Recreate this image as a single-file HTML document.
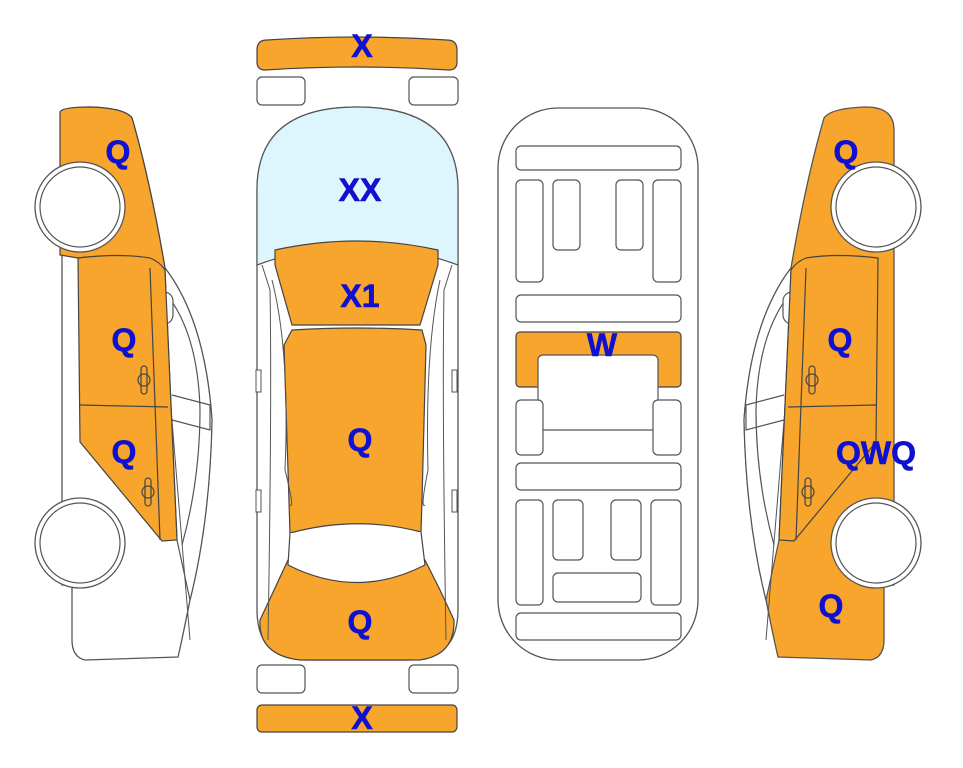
<!DOCTYPE html>
<html><head><style>
html,body{margin:0;padding:0;background:#fff;width:963px;height:768px;overflow:hidden}
svg text{font-family:"Liberation Sans",Arial,sans-serif;font-weight:bold;font-size:32px;fill:#1010D0;text-anchor:middle;stroke:#1010D0;stroke-width:0.6}
</style></head><body>
<svg width="963" height="768" viewBox="0 0 963 768" xmlns="http://www.w3.org/2000/svg">
<defs>
<g id="side">
  <path d="M62,245 L62,130 Q62,107 90,107 Q125,108 132,118 Q150,180 165,268 Q205,320 212,420 Q210,520 190,600 Q182,640 178,657 L85,660 Q72,657 72,640 L72,585 L62,585 Z" stroke="#555" stroke-width="1.3"/>
  <path d="M165,268 Q205,320 212,420 Q210,520 190,600 L177,540 L165,270 Z" fill="#fff" stroke="#555" stroke-width="1.2"/>
  <path d="M172,395 L210,405 L210,430 L172,420" fill="#fff" stroke="#555" stroke-width="1.2"/>
  <path d="M163,290 Q198,330 200,410 Q200,480 182,545" fill="none" stroke="#555" stroke-width="1.2"/>
  <path d="M160,275 L190,640" fill="none" stroke="#555" stroke-width="1"/>
  <rect x="153" y="292" width="20" height="32" rx="9" fill="#fff" stroke="#555" stroke-width="1.2"/>
</g>
<g id="wheels">
  <circle cx="80" cy="207" r="45" fill="#fff" stroke="#555" stroke-width="1.3"/>
  <circle cx="80" cy="207" r="40" fill="#fff" stroke="#555" stroke-width="1.2"/>
  <circle cx="80" cy="543" r="45" fill="#fff" stroke="#555" stroke-width="1.3"/>
  <circle cx="80" cy="543" r="40" fill="#fff" stroke="#555" stroke-width="1.2"/>
</g>
<g id="doors">
  <path d="M78,258 Q120,253 150,258 Q160,262 165,270 L177,540 L162,541 L80,442 Z" fill="#F7A52C" stroke="#444" stroke-width="1.2"/>
  <path d="M80,405 L168,407" stroke="#444" stroke-width="1.2"/>
  <path d="M150,268 L160,540" stroke="#444" stroke-width="1.2"/>
  <rect x="141" y="366" width="6" height="28" rx="3" fill="none" stroke="#444" stroke-width="1.2"/>
  <circle cx="144" cy="380" r="6" fill="none" stroke="#444" stroke-width="1.2"/>
  <rect x="145" y="478" width="6" height="28" rx="3" fill="none" stroke="#444" stroke-width="1.2"/>
  <circle cx="148" cy="492" r="6" fill="none" stroke="#444" stroke-width="1.2"/>
</g>
</defs>

<use href="#side" fill="#fff"/>
<path d="M60,112 Q62,107 90,107 Q125,108 132,118 Q150,180 165,268 L158,278 Q120,252 78,258 L60,255 Z" fill="#F7A52C" stroke="#444" stroke-width="1.2"/>
<use href="#doors"/>
<use href="#wheels"/>

<g transform="translate(956,0) scale(-1,1)">
  <use href="#side" fill="#F7A52C"/>
  <use href="#doors"/>
  <use href="#wheels"/>
</g>

<path d="M257,50 Q257,40 267,40 Q357,34 447,40 Q457,40 457,50 L457,62 Q457,70 449,70 Q357,64 265,70 Q257,70 257,62 Z" fill="#F7A52C" stroke="#444" stroke-width="1.2"/>
<rect x="257" y="77" width="48" height="28" rx="5" fill="#fff" stroke="#555" stroke-width="1.2"/>
<rect x="409" y="77" width="49" height="28" rx="5" fill="#fff" stroke="#555" stroke-width="1.2"/>
<rect x="257" y="665" width="48" height="28" rx="5" fill="#fff" stroke="#555" stroke-width="1.2"/>
<rect x="409" y="665" width="49" height="28" rx="5" fill="#fff" stroke="#555" stroke-width="1.2"/>
<rect x="257" y="705" width="200" height="27" rx="5" fill="#F7A52C" stroke="#444" stroke-width="1.2"/>

<path d="M257,190 Q257,107 357,107 Q458,107 458,190 L458,610 Q458,660 408,660 L307,660 Q257,660 257,610 Z" fill="#fff" stroke="#555" stroke-width="1.3"/>
<path d="M257,190 Q257,107 357,107 Q458,107 458,190 L458,265 Q357,228 257,265 Z" fill="#DDF5FC" stroke="#555" stroke-width="1.2"/>
<path d="M275,250 Q357,232 438,250 L438,265 L420,325 L292,325 L275,265 Z" fill="#F7A52C" stroke="#444" stroke-width="1.2"/>
<path d="M284,345 L292,330 Q357,326 422,330 L426,345 L422,500 L421,532 Q357,515 290,533 Z" fill="#F7A52C" stroke="#444" stroke-width="1.2"/>
<path d="M288,560 Q357,590 425,560 L440,590 L454,620 Q455,655 420,660 L300,660 Q258,655 260,620 L275,588 Z" fill="#F7A52C" stroke="#444" stroke-width="1.2"/>
<path d="M290,533 L288,565 Q357,600 425,565 L421,532" fill="#fff" stroke="#444" stroke-width="1.2"/>
<path d="M262,265 L270,290 Q272,400 268,640 M452,265 L444,290 Q442,400 446,640" fill="none" stroke="#555" stroke-width="1"/>
<path d="M272,280 Q290,350 285,470 Q295,510 290,505 M440,280 Q425,350 428,470 Q420,510 425,505" fill="none" stroke="#555" stroke-width="1"/>
<rect x="256" y="370" width="5" height="22" fill="#fff" stroke="#555"/>
<rect x="452" y="370" width="5" height="22" fill="#fff" stroke="#555"/>
<rect x="256" y="490" width="5" height="22" fill="#fff" stroke="#555"/>
<rect x="452" y="490" width="5" height="22" fill="#fff" stroke="#555"/>

<rect x="498" y="108" width="200" height="552" rx="60" fill="#fff" stroke="#555" stroke-width="1.3"/>
<g fill="#fff" stroke="#555" stroke-width="1.2">
<rect x="516" y="146" width="165" height="24" rx="5"/>
<rect x="516" y="180" width="27" height="102" rx="5"/>
<rect x="553" y="180" width="27" height="70" rx="5"/>
<rect x="616" y="180" width="27" height="70" rx="5"/>
<rect x="653" y="180" width="28" height="102" rx="5"/>
<rect x="516" y="295" width="165" height="27" rx="5"/>
<rect x="516" y="332" width="165" height="55" rx="4" fill="#F7A52C" stroke="#444"/>
<rect x="538" y="355" width="120" height="75" rx="5"/>
<rect x="516" y="400" width="27" height="55" rx="5"/>
<rect x="653" y="400" width="28" height="55" rx="5"/>
<rect x="516" y="463" width="165" height="27" rx="5"/>
<rect x="516" y="500" width="27" height="105" rx="5"/>
<rect x="553" y="500" width="30" height="60" rx="5"/>
<rect x="611" y="500" width="30" height="60" rx="5"/>
<rect x="651" y="500" width="30" height="105" rx="5"/>
<rect x="553" y="573" width="88" height="29" rx="5"/>
<rect x="516" y="613" width="165" height="27" rx="5"/>
</g>

<text x="118" y="163">Q</text>
<text x="124" y="351">Q</text>
<text x="124" y="463">Q</text>
<text x="362" y="57">X</text>
<text x="360" y="201">XX</text>
<text x="360" y="307">X1</text>
<text x="360" y="451">Q</text>
<text x="360" y="633">Q</text>
<text x="362" y="729">X</text>
<text x="602" y="356">W</text>
<text x="846" y="163">Q</text>
<text x="840" y="351">Q</text>
<text x="876" y="464">QWQ</text>
<text x="831" y="617">Q</text>
</svg>
</body></html>
